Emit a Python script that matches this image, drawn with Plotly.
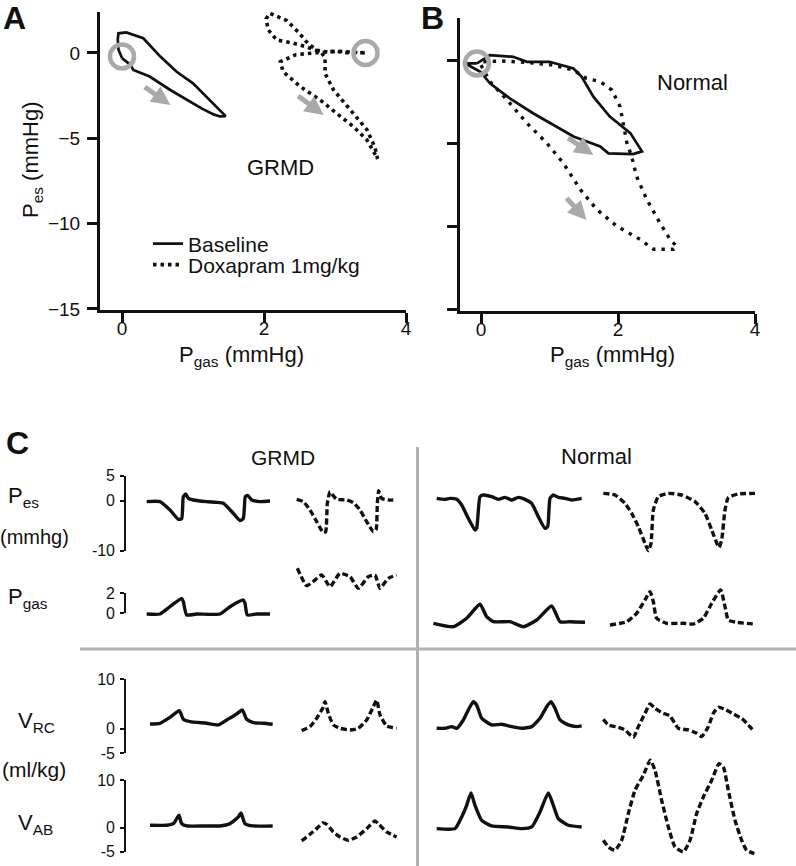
import plotly.graph_objects as go

W, H = 796, 866
FONT = "Liberation Sans, Arial, Helvetica, sans-serif"
INK = "#111111"
GRAY = "#a9a9a9"

# ---------------- Panel A (GRMD) loops: Pgas (x) vs Pes (y), mmHg ----------------
a_base_pgas = [0.00, -0.05, -0.06, -0.05, 0.06, 0.30, 0.54, 0.77, 1.00, 1.19, 1.38, 1.46,
               1.38, 1.29, 1.12, 0.96, 0.68, 0.39, 0.16, 0.12, 0.02, 0.00]
a_base_pes = [-0.30, 0.20, 0.80, 1.15, 1.20, 0.86, -0.21, -1.10, -1.78, -2.56, -3.34, -3.70,
              -3.72, -3.60, -3.25, -2.85, -2.17, -1.38, -1.00, -0.70, -0.40, -0.30]
a_dox_pgas = [3.42, 3.25, 3.05, 2.90, 2.75, 2.62, 2.50, 2.32, 2.08, 2.03, 2.06, 2.18, 2.41,
              2.60, 2.80, 2.86, 2.86, 2.98, 3.21, 3.45, 3.56, 3.60, 3.45, 3.26, 3.02, 2.79,
              2.51, 2.27, 2.23, 2.45, 2.70, 3.00, 3.20, 3.42]
a_dox_pes = [0.00, 0.05, 0.10, 0.05, 0.15, 0.55, 1.15, 1.90, 2.33, 2.00, 1.35, 0.76, 0.58,
             0.35, 0.05, -0.25, -1.20, -2.17, -3.34, -4.50, -5.50, -6.20, -5.10, -4.32, -3.53,
             -2.75, -1.97, -1.10, -0.51, -0.10, 0.00, 0.10, 0.00, 0.02]
a_start_pgas = [0.00, 3.43]
a_start_pes = [-0.20, 0.00]
a_arrow_tail = [(0.30, -1.93), (2.46, -2.46)]
a_arrow_head = [(0.68, -3.05), (2.84, -3.63)]

# ---------------- Panel B (Normal) loops ----------------
b_base_pgas = [-0.06, 0.13, 0.47, 0.67, 1.00, 1.35, 1.47, 1.64, 1.88, 2.18, 2.35, 2.22, 1.86,
               1.74, 1.35, 1.10, 0.76, 0.42, 0.13, -0.01, -0.23, -0.06]
b_base_pes = [-0.20, 0.30, 0.20, -0.10, -0.10, -0.50, -1.00, -2.20, -3.40, -4.40, -5.50, -5.66,
              -5.62, -5.20, -4.60, -4.00, -3.20, -2.30, -1.40, -0.70, -0.20, -0.20]
b_dox_pgas = [0.00, 0.13, 0.38, 0.67, 0.96, 1.20, 1.45, 1.69, 1.98, 2.32, 2.52, 2.81, 2.86,
              2.76, 2.61, 2.42, 2.27, 2.20, 2.13, 2.08, 2.03, 1.91, 1.74, 1.54, 1.35, 1.06,
              0.70, 0.30, 0.00]
b_dox_pes = [-0.30, -1.30, -2.40, -3.80, -5.00, -6.20, -7.80, -9.00, -10.00, -10.80, -11.40,
             -11.40, -11.25, -10.80, -9.80, -8.40, -7.00, -5.80, -5.00, -3.80, -2.80, -1.80,
             -1.30, -1.10, -0.60, -0.30, -0.15, -0.05, -0.10]
b_start_pgas = [-0.06]
b_start_pes = [-0.20]
b_arrow_tail = [(1.25, -4.62), (1.23, -8.23)]
b_arrow_head = [(1.64, -5.72), (1.54, -9.64)]

# ---------------- Panel C time traces (t in s) ----------------
g_base_pes_t = [0.20, 0.60, 0.90, 1.15, 1.25, 1.30, 1.37, 1.45, 1.60, 2.00, 2.30, 2.50, 2.80,
                3.00, 3.10, 3.16, 3.23, 3.35, 3.60, 3.90]
g_base_pes = [-0.23, -0.23, -1.90, -3.77, -3.63, 0.77, 1.30, 0.43, 0.10, -0.23, -0.37, -0.57,
              -2.57, -4.03, -3.57, 0.77, 1.03, 0.10, -0.23, -0.10]
g_dox_pes_t = [4.70, 4.90, 5.10, 5.30, 5.50, 5.57, 5.62, 5.70, 5.78, 5.90, 6.20, 6.40, 6.60,
               6.80, 7.00, 7.08, 7.12, 7.16, 7.25, 7.45, 7.70]
g_dox_pes = [0.23, -0.23, -1.90, -4.23, -6.43, -6.23, -0.57, 1.77, 1.10, 0.23, 0.10, -0.43,
             -1.90, -4.23, -6.23, -5.90, -0.57, 1.97, 0.43, 0.10, 0.10]
g_base_pgas_t = [0.20, 0.60, 0.90, 1.25, 1.30, 1.40, 1.70, 2.40, 2.70, 3.10, 3.15, 3.22, 3.50, 3.90]
g_base_pgas = [-0.10, -0.10, 0.63, 1.47, 1.13, -0.20, -0.10, -0.10, 0.63, 1.30, 0.97, -0.20,
               -0.10, -0.10]
g_dox_pgas_t = [4.72, 5.00, 5.25, 5.45, 5.70, 6.00, 6.30, 6.55, 6.85, 7.05, 7.20, 7.45, 7.70]
g_dox_pgas = [4.47, 2.73, 3.30, 3.80, 2.63, 3.97, 3.63, 2.47, 3.63, 3.80, 2.47, 3.47, 3.80]
g_base_vrc_t = [0.30, 0.60, 0.90, 1.18, 1.30, 1.50, 2.00, 2.35, 2.60, 2.90, 3.07, 3.20, 3.40,
                3.70, 3.98]
g_base_vrc = [0.94, 1.08, 2.29, 3.64, 1.89, 1.41, 1.08, 0.74, 1.75, 2.97, 3.78, 1.89, 1.21,
              1.08, 0.87]
g_dox_vrc_t = [4.85, 5.10, 5.30, 5.48, 5.55, 5.65, 5.80, 6.00, 6.30, 6.55, 6.80, 7.00, 7.10,
               7.20, 7.40, 7.70]
g_dox_vrc = [-0.41, 0.40, 2.09, 4.12, 5.47, 3.10, 0.74, 0.06, -0.27, 0.06, 1.75, 4.45, 5.80,
             2.77, 0.54, 0.06]
g_base_vab_t = [0.30, 0.80, 1.00, 1.10, 1.17, 1.25, 1.40, 2.00, 2.40, 2.70, 2.95, 3.03, 3.15,
                3.40, 3.98]
g_base_vab = [0.53, 0.53, 0.87, 1.92, 2.62, 0.87, 0.39, 0.39, 0.39, 0.87, 2.27, 3.11, 0.87,
              0.39, 0.39]
g_dox_vab_t = [4.85, 5.10, 5.30, 5.48, 5.60, 5.80, 6.00, 6.25, 6.50, 6.80, 7.05, 7.15, 7.40, 7.70]
g_dox_vab = [-2.75, -1.36, -0.17, 1.01, 0.73, -0.87, -1.92, -2.61, -1.92, -0.17, 1.43, 0.87,
             -0.87, -1.92]

n_base_pes_t = [0.35, 0.60, 0.75, 0.95, 1.10, 1.30, 1.50, 1.55, 1.65, 1.75, 2.00, 2.20, 2.40,
                2.60, 2.80, 3.00, 3.20, 3.40, 3.60, 3.68, 3.75, 3.85, 4.00, 4.20, 4.40, 4.70]
n_base_pes = [0.43, 0.23, 0.43, 0.23, -0.90, -3.57, -5.90, -5.57, 0.77, 1.10, 0.77, 0.23, 0.63,
              0.10, 0.63, 0.23, -0.57, -3.23, -5.57, -5.23, 0.43, 1.10, 0.63, 0.43, 0.10, 0.43]
n_dox_pes_t = [5.35, 5.70, 6.00, 6.20, 6.40, 6.60, 6.70, 6.78, 6.85, 7.00, 7.30, 7.70, 8.10,
               8.40, 8.60, 8.82, 8.90, 9.00, 9.10, 9.40, 9.90]
n_dox_pes = [1.43, 1.10, -0.57, -2.57, -5.23, -8.57, -10.03, -8.57, -1.90, 0.77, 1.43, 1.10,
             -0.23, -2.57, -5.90, -9.37, -7.90, -1.90, 0.57, 1.30, 1.43]
n_base_pgas_t = [0.25, 0.85, 1.25, 1.65, 1.85, 2.05, 2.55, 2.95, 3.35, 3.80, 4.05, 4.35, 4.80]
n_base_pgas = [-1.03, -1.37, -0.53, 0.87, -0.37, -0.87, -0.87, -1.37, -0.70, 0.70, -0.87,
               -0.87, -0.93]
n_dox_pgas_t = [5.55, 6.05, 6.35, 6.60, 6.75, 6.85, 6.95, 7.25, 7.75, 8.05, 8.35, 8.60, 8.87,
                9.00, 9.10, 9.35, 9.90]
n_dox_pgas = [-1.20, -0.87, -0.03, 1.30, 2.13, 1.13, -0.53, -1.03, -1.03, -1.10, -0.53, 0.97,
              2.30, 0.63, -0.70, -0.93, -1.10]
n_base_vrc_t = [0.35, 0.60, 0.80, 0.95, 1.15, 1.30, 1.45, 1.55, 1.70, 2.00, 2.30, 2.60, 2.90,
                3.20, 3.45, 3.65, 3.78, 3.90, 4.05, 4.30, 4.55, 4.70]
n_base_vrc = [0.06, 0.06, 0.40, 0.06, 1.75, 3.78, 5.47, 4.79, 2.09, 0.74, 0.87, 0.40, 0.06,
              0.40, 2.09, 4.45, 5.47, 4.12, 1.75, 0.74, 0.40, 0.54]
n_dox_vrc_t = [5.35, 5.50, 5.80, 6.00, 6.25, 6.40, 6.60, 6.75, 6.90, 7.10, 7.35, 7.60, 7.90,
               8.15, 8.30, 8.50, 8.65, 8.80, 9.00, 9.25, 9.50, 9.70, 9.85]
n_dox_vrc = [1.89, 0.74, 0.27, -0.27, -1.76, 0.40, 3.10, 5.00, 4.12, 3.24, 2.56, 0.06, -0.27,
             -0.95, -1.63, 0.40, 3.10, 4.32, 3.91, 2.97, 2.09, 0.74, -0.41]
n_base_vab_t = [0.35, 0.90, 1.10, 1.25, 1.38, 1.50, 1.70, 2.00, 2.50, 2.90, 3.20, 3.45, 3.70,
                3.85, 4.00, 4.30, 4.70]
n_base_vab = [-0.17, -0.17, 2.27, 4.71, 7.29, 4.71, 1.57, 0.39, 0.18, -0.17, 0.18, 3.31, 7.29,
              4.71, 1.92, 0.53, 0.18]
n_dox_vab_t = [5.35, 5.50, 5.70, 5.90, 6.10, 6.30, 6.55, 6.76, 6.90, 7.10, 7.30, 7.50, 7.75,
               7.95, 8.15, 8.35, 8.60, 8.82, 8.95, 9.10, 9.30, 9.50, 9.65, 9.88]
n_dox_vab = [-2.61, -4.01, -4.71, -2.61, 2.97, 7.85, 10.99, 14.12, 12.03, 5.76, 0.18, -4.01,
             -5.05, -2.61, 2.97, 6.45, 9.94, 13.43, 12.73, 7.85, 1.57, -2.61, -4.71, -5.40]

# scale-bar tick values / labels for panel C rows
pes_ticks = [5, 0, -10]
pgas_ticks = [2, 0]
vrc_ticks = [10, 0, -5]
vab_ticks = [10, 0, -5]
ab_x_ticks = [0, 2, 4]
ab_y_ticks = [0, -5, -10, -15]

# ---------------- layout helpers (pixel -> paper) ----------------
def dx(a, b):
    return [a / W, b / W]

def dy(top, bottom):
    return [1 - bottom / H, 1 - top / H]

def px(x):
    return x / W

def py(y):
    return 1 - y / H

fig = go.Figure()

# Panel A
fig.add_trace(go.Scatter(x=a_base_pgas, y=a_base_pes, mode="lines", name="Baseline",
                         legend="legend",
                         line=dict(color=INK, width=2.7), xaxis="x", yaxis="y"))
fig.add_trace(go.Scatter(x=a_dox_pgas, y=a_dox_pes, mode="lines", name="Doxapram 1mg/kg",
                         legend="legend2",
                         line=dict(color=INK, width=3.6, dash="3.5px,4px"), xaxis="x", yaxis="y"))
fig.add_trace(go.Scatter(x=a_start_pgas, y=a_start_pes, mode="markers", showlegend=False,
                         marker=dict(symbol="circle-open", size=24, color=GRAY,
                                     line=dict(width=4.5, color=GRAY)), xaxis="x", yaxis="y"))
# Panel B
fig.add_trace(go.Scatter(x=b_base_pgas, y=b_base_pes, mode="lines", showlegend=False,
                         line=dict(color=INK, width=2.7), xaxis="x2", yaxis="y2"))
fig.add_trace(go.Scatter(x=b_dox_pgas, y=b_dox_pes, mode="lines", showlegend=False,
                         line=dict(color=INK, width=3.4, dash="3.4px,6px"), xaxis="x2", yaxis="y2"))
fig.add_trace(go.Scatter(x=b_start_pgas, y=b_start_pes, mode="markers", showlegend=False,
                         marker=dict(symbol="circle-open", size=24, color=GRAY,
                                     line=dict(width=4.5, color=GRAY)), xaxis="x2", yaxis="y2"))

# Panel C traces
C_rows = [
    ("y3", [(g_base_pes_t, g_base_pes, "x3", False), (g_dox_pes_t, g_dox_pes, "x3", True),
            (n_base_pes_t, n_base_pes, "x4", False), (n_dox_pes_t, n_dox_pes, "x4", True)]),
    ("y4", [(g_base_pgas_t, g_base_pgas, "x3", False), (g_dox_pgas_t, g_dox_pgas, "x3", True),
            (n_base_pgas_t, n_base_pgas, "x4", False), (n_dox_pgas_t, n_dox_pgas, "x4", True)]),
    ("y5", [(g_base_vrc_t, g_base_vrc, "x3", False), (g_dox_vrc_t, g_dox_vrc, "x3", True),
            (n_base_vrc_t, n_base_vrc, "x4", False), (n_dox_vrc_t, n_dox_vrc, "x4", True)]),
    ("y6", [(g_base_vab_t, g_base_vab, "x3", False), (g_dox_vab_t, g_dox_vab, "x3", True),
            (n_base_vab_t, n_base_vab, "x4", False), (n_dox_vab_t, n_dox_vab, "x4", True)]),
]
for yname, items in C_rows:
    for t, v, xname, dashed in items:
        fig.add_trace(go.Scatter(
            x=t, y=v, mode="lines", showlegend=False, xaxis=xname, yaxis=yname,
            line=dict(color=INK, width=3.4, dash="6px,3px" if dashed else "solid",
                      shape="spline", smoothing=0.5)))

# ---------------- axes ----------------
axis_common = dict(showgrid=False, zeroline=False, showline=True, linecolor=INK,
                   ticks="outside", tickcolor=INK, tickfont=dict(family=FONT, size=19, color=INK))

legend_common = dict(xanchor="left", yanchor="middle", bgcolor="rgba(0,0,0,0)",
                     font=dict(family=FONT, size=21, color=INK), itemwidth=30)

layout = dict(
    width=W, height=H, margin=dict(l=0, r=0, t=0, b=0, autoexpand=False),
    paper_bgcolor="white", plot_bgcolor="rgba(0,0,0,0)",
    font=dict(family=FONT, color=INK),
    showlegend=True,
    legend=dict(x=px(148), y=py(244), **legend_common),
    legend2=dict(x=px(148), y=py(265), **legend_common),
    xaxis=dict(domain=dx(100, 406), range=[-0.31, 4], anchor="y", linewidth=3,
               ticklen=10, tickwidth=3, tickvals=ab_x_ticks, ticklabelstandoff=-11,
               **axis_common),
    yaxis=dict(domain=dy(12, 310), range=[-15.06, 2.4], anchor="x", linewidth=3,
               ticklen=10, tickwidth=3, tickvals=ab_y_ticks, ticklabelstandoff=3, **axis_common),
    xaxis2=dict(domain=dx(460, 755), range=[-0.307, 4], anchor="y2", linewidth=3,
                ticklen=10, tickwidth=3, tickvals=ab_x_ticks, ticklabelstandoff=-11,
                **axis_common),
    yaxis2=dict(domain=dy(18, 311), range=[-15.12, 2.54], anchor="x2", linewidth=3,
                ticklen=10, tickwidth=3, tickvals=ab_y_ticks, showticklabels=False, **axis_common),
)

# Panel C x axes: 100/3 px per second
PXS = 100 / 3
for name, left, right in [("xaxis3", 140, 405), ("xaxis4", 425, 765)]:
    layout[name] = dict(domain=dx(left, right), range=[0, (right - left) / PXS],
                        visible=False, anchor="y3")

# Panel C rows: (data axis, scale axis, zero pixel, px per unit, data top, data bottom, ticks)
rows_geom = [
    ("yaxis3", "yaxis7", 500.5, 5.0, 460, 572, pes_ticks),
    ("yaxis4", "yaxis8", 613.0, 10.0, 560, 638, pgas_ticks),
    ("yaxis5", "yaxis9", 728.6, 4.93, 666, 764, vrc_ticks),
    ("yaxis6", "yaxis10", 827.8, 4.78, 752, 866, vab_ticks),
]
for dname, sname, zero, ppu, top, bottom, ticks in rows_geom:
    layout[dname] = dict(domain=dy(top, bottom),
                         range=[(zero - bottom) / ppu, (zero - top) / ppu],
                         visible=False, anchor="x3")
    lo, hi = min(ticks), max(ticks)
    layout[sname] = dict(domain=dy(zero - hi * ppu, zero - lo * ppu), range=[lo, hi],
                         anchor="free", position=px(125), side="left",
                         showgrid=False, zeroline=False, showline=True, linecolor=INK,
                         linewidth=1.6, ticks="outside", ticklen=4, tickwidth=1.6,
                         tickcolor=INK, tickvals=ticks, ticktext=[str(v) for v in ticks],
                         ticklabelstandoff=2,
                         tickfont=dict(family=FONT, size=16, color=INK))
    fig.add_trace(go.Scatter(x=[], y=[], xaxis="x3", yaxis="y" + sname[5:], showlegend=False,
                             hoverinfo="skip"))

fig.update_layout(**layout)

# arrows
for tails, heads, xr, yr in [(a_arrow_tail, a_arrow_head, "x", "y"),
                             (b_arrow_tail, b_arrow_head, "x2", "y2")]:
    for (tx, ty), (hx, hy) in zip(tails, heads):
        fig.add_annotation(x=hx, y=hy, ax=tx, ay=ty, xref=xr, yref=yr, axref=xr, ayref=yr,
                           text="", showarrow=True, arrowhead=2, arrowsize=0.75,
                           arrowwidth=5, arrowcolor=GRAY)

def txt(s, x, y, size, xanchor="center", yanchor="middle", bold=False, angle=0):
    fig.add_annotation(text=f"<b>{s}</b>" if bold else s, x=px(x), y=py(y), xref="paper",
                       yref="paper", showarrow=False, xanchor=xanchor, yanchor=yanchor,
                       textangle=angle, font=dict(family=FONT, size=size, color=INK))

txt("A", 15, 18, 32, bold=True)
txt("B", 432, 18, 32, bold=True)
txt("C", 17, 443, 32, bold=True)
txt("GRMD", 280, 167, 22)
txt("Normal", 692, 82, 22)
txt("P<sub>es</sub> (mmHg)", 32, 160, 22, angle=-90)
txt("P<sub>gas</sub> (mmHg)", 241, 356, 22)
txt("P<sub>gas</sub> (mmHg)", 612, 356, 22)
txt("GRMD", 283, 457, 21)
txt("Normal", 596, 456, 22)
txt("P<sub>es</sub>", 6, 497, 22, xanchor="left")
txt("(mmhg)", 34, 537, 20)
txt("P<sub>gas</sub>", 6, 598, 22, xanchor="left")
txt("V<sub>RC</sub>", 16, 722, 22, xanchor="left")
txt("(ml/kg)", 34, 769, 21)
txt("V<sub>AB</sub>", 16, 824, 22, xanchor="left")

# panel C separators
fig.add_shape(type="line", xref="paper", yref="paper", x0=px(417.5), x1=px(417.5),
              y0=py(447), y1=py(866), line=dict(color="#b2b2b2", width=3))
fig.add_shape(type="line", xref="paper", yref="paper", x0=px(80), x1=px(796),
              y0=py(649), y1=py(649), line=dict(color="#b2b2b2", width=3))

fig.write_html("out.html", config={"displayModeBar": False},
               post_script="document.body.style.margin='0';document.body.style.overflow='hidden';")
